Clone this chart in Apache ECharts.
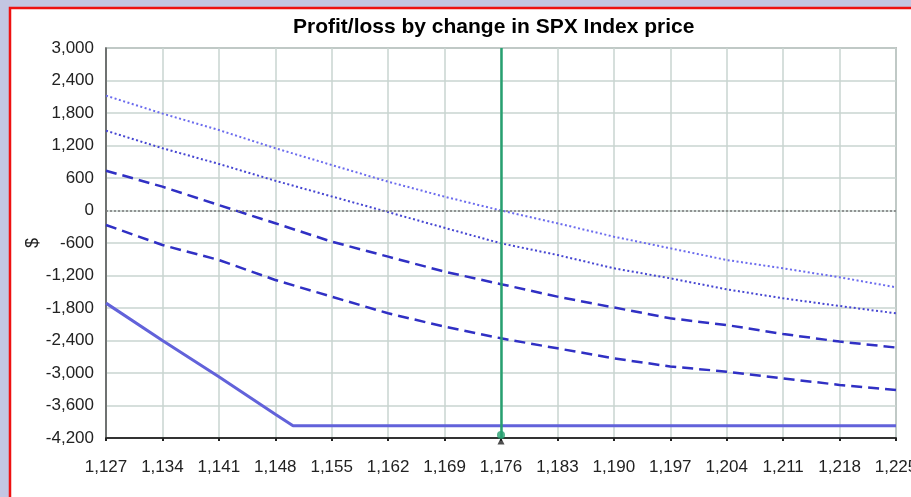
<!DOCTYPE html>
<html>
<head>
<meta charset="utf-8">
<script src="https://cdn.jsdelivr.net/npm/echarts@6/dist/echarts.min.js"></script>
<style>
html,body{margin:0;padding:0;background:#c3c6e2;}
#chart{width:911px;height:497px;}
</style>
</head>
<body>
<div id="chart"></div>
<script>
const titleText = 'Profit/loss by change in SPX Index price';
const yAxisName = '$';
const prices = [1127,1134,1141,1148,1155,1162,1169,1176,1183,1190,1197,1204,1211,1218,1225];
const dottedLight = [2120,1790,1486,1150,840,532,255,0,-236,-483,-698,-914,-1067,-1233,-1418];
const dottedDark = [1473,1150,860,550,260,-30,-320,-606,-821,-1067,-1252,-1455,-1621,-1763,-1898];
const dashedUpper = [735,440,100,-236,-575,-852,-1129,-1360,-1590,-1790,-1990,-2115,-2280,-2420,-2530];
const dashedLower = [-268,-637,-914,-1283,-1591,-1898,-2145,-2360,-2545,-2730,-2880,-2975,-3100,-3220,-3315];
const solidPrices = [1127,1134,1141,1148,1150.2,1225];
const solidValues = [-1710,-2400,-3070,-3760,-3975,-3975];
const currentPrice = 1176;
const xMin = 1127, xMax = 1225, xStep = 7;
const yMin = -4200, yMax = 3000, yStep = 600;

const pair = (xs, ys) => xs.map((x, i) => [x, ys[i]]);
const fmt = v => Number(v).toLocaleString('en-US');

const chart = echarts.init(document.getElementById('chart'), null, {renderer: 'canvas'});
const font = '"Liberation Sans", Arial, sans-serif';

chart.setOption({
  backgroundColor: '#c3c6e2',
  animation: false,
  graphic: [{
    type: 'rect', z: -10, silent: true,
    shape: {x: 10, y: 8, width: 930, height: 520},
    style: {fill: '#ffffff', stroke: '#ee1111', lineWidth: 2.5}
  }],
  title: {
    text: titleText, left: 288, top: 12,
    textStyle: {fontFamily: font, fontSize: 21, fontWeight: 'bold', color: '#000'}
  },
  grid: {left: 106, right: 15, top: 48, bottom: 59, show: true, outerBoundsMode: 'none',
    containLabel: false,
    borderColor: '#8a8a8a', borderWidth: 1.5, backgroundColor: 'transparent'},
  xAxis: {
    type: 'value', min: xMin, max: xMax, interval: xStep,
    axisLine: {show: true, onZero: false, lineStyle: {color: '#333', width: 2}},
    axisTick: {show: true, length: 3, lineStyle: {color: '#222', width: 2}},
    axisLabel: {formatter: fmt, fontFamily: font, fontSize: 17, color: '#222', margin: 21, showMaxLabel: true, hideOverlap: false},
    splitLine: {show: true, lineStyle: {color: '#c8d4d0', width: 1.5}}
  },
  yAxis: {
    type: 'value', min: yMin, max: yMax, interval: yStep,
    name: yAxisName, nameLocation: 'middle', nameGap: 64, nameRotate: 90, nameMoveOverlap: false,
    nameTextStyle: {fontFamily: font, fontSize: 18, color: '#222'},
    axisLine: {show: true, lineStyle: {color: '#555', width: 1.5}},
    axisTick: {show: false},
    axisLabel: {formatter: fmt, fontFamily: font, fontSize: 17, color: '#222', margin: 12},
    splitLine: {show: true, lineStyle: {color: '#c8d4d0', width: 1.5}}
  },
  series: [
    {
      type: 'line', data: pair(solidPrices, solidValues), symbol: 'none', z: 3,
      lineStyle: {color: '#6262da', width: 3},
      markLine: {
        silent: true, symbol: 'none', label: {show: false}, z: 5,
        data: [
          {yAxis: 0, lineStyle: {color: '#7a7a7a', type: [2, 2], width: 1.5}},
          {xAxis: currentPrice, lineStyle: {color: '#27a070', type: 'solid', width: 2.5}}
        ]
      }
    },
    {type: 'line', data: pair(prices, dottedLight), symbol: 'none', z: 3,
      lineStyle: {color: '#6c6cee', width: 2, type: [2, 2.5]}},
    {type: 'line', data: pair(prices, dottedDark), symbol: 'none', z: 3,
      lineStyle: {color: '#4646d2', width: 2, type: [2, 2.5]}},
    {type: 'line', data: pair(prices, dashedUpper), symbol: 'none', z: 3,
      lineStyle: {color: '#3030c4', width: 2.5, type: [11, 6]}},
    {type: 'line', data: pair(prices, dashedLower), symbol: 'none', z: 3,
      lineStyle: {color: '#3030c4', width: 2.5, type: [11, 6]}},
    {type: 'scatter', data: [[currentPrice, yMin]], clip: false, z: 6,
      symbol: 'triangle', symbolSize: 7, symbolOffset: [0, 3], itemStyle: {color: '#222'}},
    {type: 'scatter', data: [[currentPrice, yMin]], clip: false, z: 7,
      symbol: 'circle', symbolSize: 8, symbolOffset: [0, -3], itemStyle: {color: '#27a070'}}
  ]
});
</script>
</body>
</html>
